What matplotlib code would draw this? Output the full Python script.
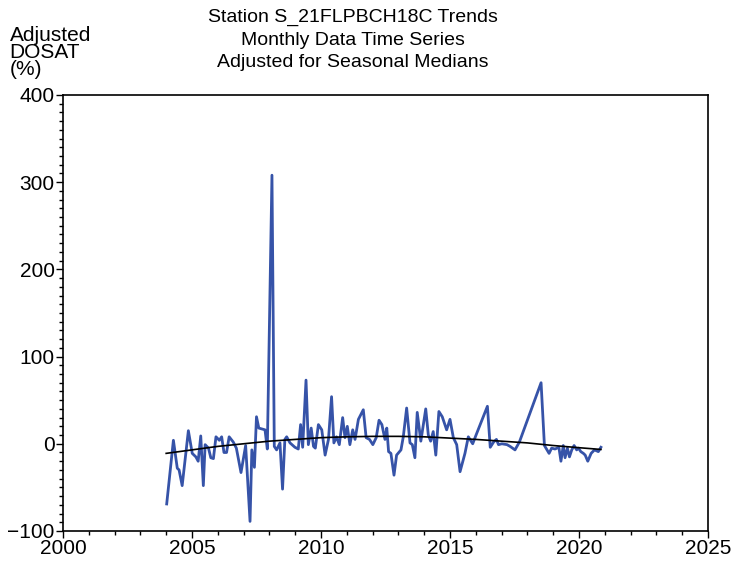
import matplotlib
matplotlib.use("Agg")
import matplotlib.pyplot as plt
from matplotlib.ticker import MultipleLocator

plt.rcParams["font.family"] = ["Liberation Sans", "DejaVu Sans"]

# adjusted DOSAT series (decimal year, %)
years = [
    2004.02, 2004.28, 2004.43, 2004.50, 2004.62, 2004.86, 2005.01, 2005.15,
    2005.24, 2005.34, 2005.44, 2005.51, 2005.64, 2005.73, 2005.83, 2005.93,
    2006.06, 2006.15, 2006.24, 2006.34, 2006.44, 2006.60, 2006.72, 2006.90,
    2007.08, 2007.25, 2007.32, 2007.42, 2007.50, 2007.59, 2007.83, 2007.92,
    2008.10, 2008.19, 2008.28, 2008.41, 2008.51, 2008.60, 2008.67, 2008.80,
    2008.99, 2009.12, 2009.21, 2009.29, 2009.42, 2009.51, 2009.62, 2009.71,
    2009.78, 2009.90, 2010.03, 2010.16, 2010.29, 2010.41, 2010.50, 2010.60,
    2010.71, 2010.84, 2010.93, 2011.02, 2011.12, 2011.23, 2011.32, 2011.45,
    2011.64, 2011.75, 2011.88, 2012.01, 2012.14, 2012.25, 2012.36, 2012.48,
    2012.55, 2012.62, 2012.71, 2012.83, 2012.93, 2013.10, 2013.19, 2013.32,
    2013.45, 2013.54, 2013.64, 2013.73, 2013.87, 2014.06, 2014.16, 2014.25,
    2014.35, 2014.45, 2014.57, 2014.70, 2014.87, 2015.00, 2015.13, 2015.26,
    2015.39, 2015.58, 2015.71, 2015.88, 2016.01, 2016.45, 2016.56, 2016.69,
    2016.80, 2016.88, 2017.01, 2017.21, 2017.33, 2017.52, 2017.69, 2018.53,
    2018.66, 2018.84, 2018.94, 2019.07, 2019.22, 2019.30, 2019.39, 2019.46,
    2019.55, 2019.63, 2019.72, 2019.81, 2019.91, 2019.98, 2020.07, 2020.17,
    2020.24, 2020.34, 2020.47, 2020.60, 2020.75, 2020.85,
]
dosat = [
    -69, 4, -28, -30, -48, 15, -11, -15,
    -20, 9, -48, -1, -5, -16, -17, 8,
    4, 8, -10, -10, 8, 2, -5, -33,
    -2, -89, -7, -27, 31, 18, 16, -6,
    308, -3, -7, 1, -52, 5, 8, 1,
    -4, -6, 22, -4, 73, -1, 18, -3,
    -5, 22, 16, -13, 5, 54, 1, 8,
    -1, 30, 7, 20, -1, 16, 5, 28,
    39, 7, 5, -1, 7, 27, 22, 5,
    18, -9, -11, -36, -13, -7, 8, 41,
    1, -1, -16, 36, 3, 40, 10, 3,
    14, -13, 37, 31, 16, 28, 7, -1,
    -32, -11, 8, 0, 10, 43, -4, 2,
    5, -1, 0, -1, -3, -7, 2, 70,
    -2, -11, -5, -6, -4, -20, -2, -16,
    -5, -15, -7, -2, -7, -5, -9, -11,
    -13, -20, -11, -7, -9, -4,
]

# smooth trend curve, read at yearly points
trend_years = [2004.0, 2005, 2006, 2007, 2008, 2009, 2010, 2011, 2012,
               2013, 2014, 2015, 2016, 2017, 2018, 2019, 2020, 2020.85]
trend_vals = [-11, -7, -3, 0, 3, 5, 7, 8, 8.5,
              8.5, 8, 6.5, 5, 3, 1, -2, -4.5, -6.5]

fig = plt.figure(figsize=(7.47, 5.62), dpi=100)
ax = fig.add_axes([0.0843, 0.0552, 0.8635, 0.7758])

ax.plot(years, dosat, color="#3653a8", lw=2.0, zorder=2)
ax.plot(trend_years, trend_vals, color="black", lw=1.2, zorder=3)

ax.set_xlim(2000, 2025)
ax.set_ylim(-100, 400)
ax.xaxis.set_major_locator(MultipleLocator(5))
ax.xaxis.set_minor_locator(MultipleLocator(1))
ax.yaxis.set_major_locator(MultipleLocator(100))
ax.yaxis.set_minor_locator(MultipleLocator(10))
ax.tick_params(which="major", length=5, width=1, labelsize=15, pad=1)
ax.tick_params(which="minor", length=3, width=1)
for s in ax.spines.values():
    s.set_linewidth(1.2)

fig.text(0.4726, 0.984, "Station S_21FLPBCH18C Trends\nMonthly Data Time Series\nAdjusted for Seasonal Medians",
         ha="center", va="top", fontsize=14, linespacing=1.42)
fig.text(0.013, 0.953, "Adjusted\nDOSAT\n(%)", ha="left", va="top",
         fontsize=15, linespacing=0.85)

fig.savefig("out.png", dpi=100)
